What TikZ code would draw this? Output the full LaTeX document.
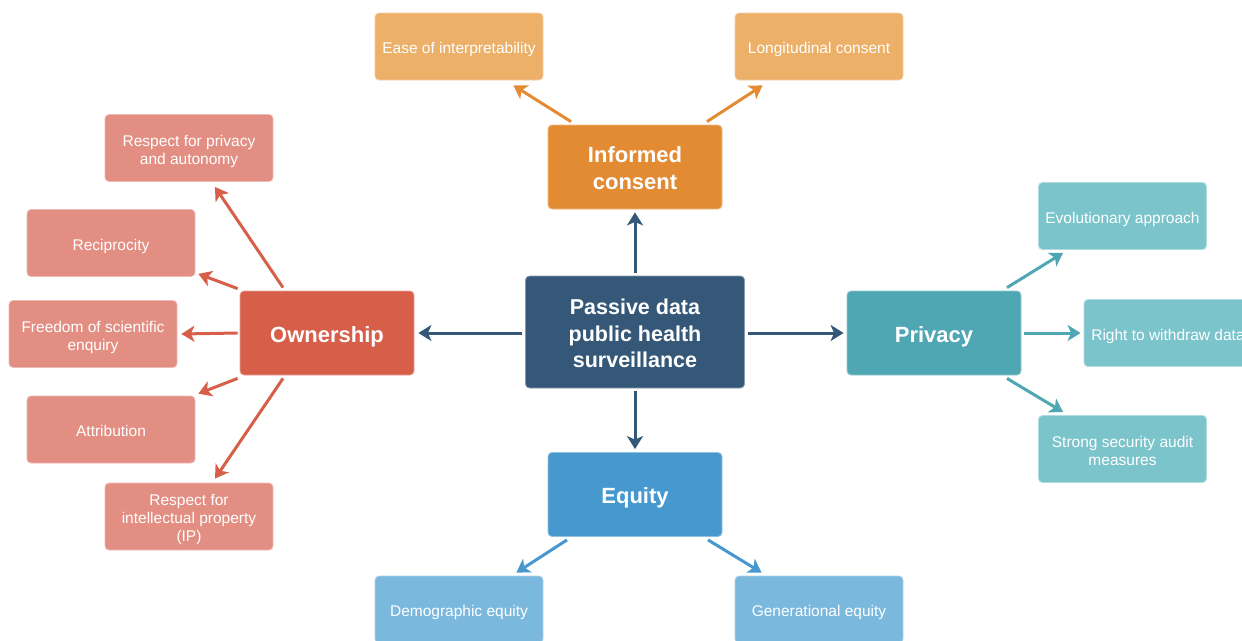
\documentclass[tikz,border=0pt]{standalone}
\usepackage{fontspec}
\setmainfont{Liberation Sans}
\usetikzlibrary{arrows.meta,calc}
\definecolor{cCen}{HTML}{365878}
\definecolor{cInf}{HTML}{E38B32}
\definecolor{cInfL}{HTML}{ECB068}
\definecolor{cOwn}{HTML}{D75F4A}
\definecolor{cOwnL}{HTML}{E38E82}
\definecolor{cPri}{HTML}{4FA7B3}
\definecolor{cPriL}{HTML}{7CC4CB}
\definecolor{cEq}{HTML}{4698CE}
\definecolor{cEqL}{HTML}{7AB8DE}
\newcommand\stS{\rule{0pt}{17.5pt}}
\newcommand\stB{\rule{0pt}{23pt}}
\tikzset{
  box/.style={rectangle, rounded corners=4pt, inner sep=0pt, text=white, align=center, line width=0.8pt},
  bigtext/.style={execute at begin node={\rule{0pt}{23pt}}, execute at end node={\rule[-5pt]{0pt}{5pt}}},
  smalltext/.style={execute at begin node={\rule{0pt}{17.5pt}}, execute at end node={\rule[-3.5pt]{0pt}{3.5pt}}},
  mainbox/.style={box, bigtext, minimum width=174pt, minimum height=84pt, font=\fontsize{22}{26.5}\selectfont\bfseries},
  centerbox/.style={box, bigtext, minimum width=219pt, minimum height=112pt, font=\fontsize{21.5}{26.5}\selectfont\bfseries, fill=cCen, draw=cCen!60!white},
  subbox/.style={box, smalltext, minimum width=168pt, minimum height=67pt, font=\fontsize{15.5}{18}\selectfont},
  arr/.style={line width=3pt, -{Stealth[length=13pt,width=16pt,inset=3.5pt]}},
}
\begin{document}
\begin{tikzpicture}[x=1pt,y=-1pt]
\useasboundingbox (0,0) rectangle (1242,640);
\clip (0,0) rectangle (1242,640);
% center
\node[centerbox] (cen) at (635,332) {\stB Passive data\\public health\\surveillance};
% main nodes
\node[mainbox, fill=cInf, draw=cInf!60!white] (inf) at (635,167) {\stB Informed\\consent};
\node[mainbox, fill=cOwn, draw=cOwn!60!white] (own) at (327,333) {Ownership};
\node[mainbox, fill=cPri, draw=cPri!60!white] (pri) at (934,333) {Privacy};
\node[mainbox, fill=cEq, draw=cEq!60!white] (eq) at (635,494.5) {Equity};
% informed consent children
\node[subbox, fill=cInfL, draw=cInfL!60!white] (ease) at (459,46.5) {Ease of interpretability};
\node[subbox, fill=cInfL, draw=cInfL!60!white] (long) at (819,46.5) {Longitudinal consent};
% ownership children
\node[subbox, fill=cOwnL, draw=cOwnL!60!white] (rpa) at (189,148) {\stS Respect for privacy\\and autonomy};
\node[subbox, fill=cOwnL, draw=cOwnL!60!white] (rec) at (111,243) {Reciprocity};
\node[subbox, fill=cOwnL, draw=cOwnL!60!white] (fre) at (93,334) {\stS Freedom of scientific\\enquiry};
\node[subbox, fill=cOwnL, draw=cOwnL!60!white] (att) at (111,429.5) {Attribution};
\node[subbox, fill=cOwnL, draw=cOwnL!60!white] (rip) at (189,516.5) {\stS Respect for\\intellectual property\\(IP)};
% privacy children
\node[subbox, fill=cPriL, draw=cPriL!60!white] (evo) at (1122.5,216) {Evolutionary approach};
\node[subbox, fill=cPriL, draw=cPriL!60!white] (rwd) at (1168,333) {Right to withdraw data};
\node[subbox, fill=cPriL, draw=cPriL!60!white] (str) at (1122.5,449) {\stS Strong security audit\\measures};
% equity children
\node[subbox, fill=cEqL, draw=cEqL!60!white] (dem) at (459,609.5) {Demographic equity};
\node[subbox, fill=cEqL, draw=cEqL!60!white] (gen) at (819,609.5) {Generational equity};
% center arrows
\draw[arr, cCen] ([yshift=3pt]cen.north) -- ([yshift=-3pt]inf.south);
\draw[arr, cCen] ([xshift=-3pt]cen.west |- own.east) -- ([xshift=4pt]own.east);
\draw[arr, cCen] ([xshift=3pt]cen.east |- pri.west) -- ([xshift=-3pt]pri.west);
\draw[arr, cCen] ([yshift=-3pt]cen.south) -- ([yshift=3pt]eq.north);
% informed consent arrows
\draw[arr, cInf] ([xshift=-64pt,yshift=3pt]inf.north) -- ([xshift=-30pt,yshift=-5pt]ease.south east);
\draw[arr, cInf] ([xshift=72pt,yshift=3pt]inf.north) -- ([xshift=28pt,yshift=-5pt]long.south west);
% ownership arrows
\draw[arr, cOwn] ([xshift=-44pt,yshift=3pt]own.north) -- ([xshift=26pt,yshift=-5pt]rpa.south);
\draw[arr, cOwn] ([xshift=-2pt,yshift=2pt]own.north west) -- ([xshift=3pt,yshift=3pt]rec.south east);
\draw[arr, cOwn] ([xshift=-2pt]own.west) -- ([xshift=4pt]fre.east);
\draw[arr, cOwn] ([xshift=-2pt,yshift=-3pt]own.south west) -- ([xshift=3pt,yshift=2pt]att.north east);
\draw[arr, cOwn] ([xshift=-44pt,yshift=-3pt]own.south) -- ([xshift=26pt,yshift=4pt]rip.north);
% privacy arrows
\draw[arr, cPri] ([xshift=73pt,yshift=3pt]pri.north) -- ([xshift=25pt,yshift=-3pt]evo.south west);
\draw[arr, cPri] ([xshift=3pt]pri.east) -- ([xshift=-3pt]rwd.west);
\draw[arr, cPri] ([xshift=73pt,yshift=-3pt]pri.south) -- ([xshift=25pt,yshift=3pt]str.north west);
% equity arrows
\draw[arr, cEq] ([xshift=-68pt,yshift=-3pt]eq.south) -- ([xshift=-27pt,yshift=3pt]dem.north east);
\draw[arr, cEq] ([xshift=73pt,yshift=-3pt]eq.south) -- ([xshift=27pt,yshift=3pt]gen.north west);
\end{tikzpicture}
\end{document}
